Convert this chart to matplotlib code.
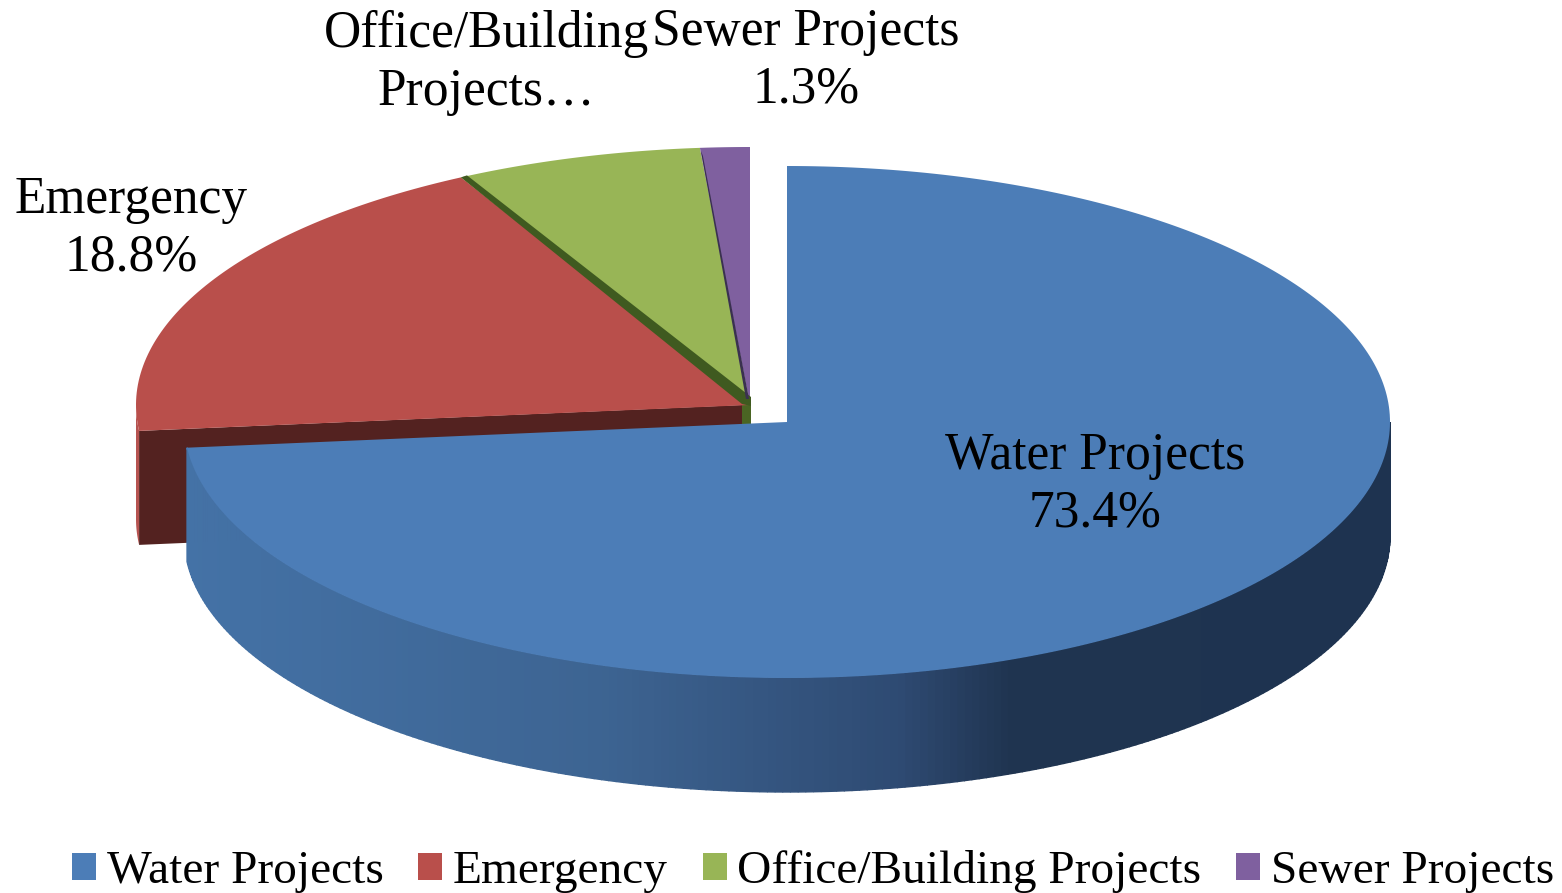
import matplotlib
matplotlib.use('Agg')
import matplotlib.pyplot as plt
from matplotlib.patches import Polygon, Patch
from matplotlib.colors import to_rgb
import numpy as np

plt.rcParams['font.family'] = ['Liberation Serif', 'DejaVu Serif']

categories = ['Water Projects', 'Emergency', 'Office/Building Projects', 'Sewer Projects']
values = [73.4, 18.8, 6.5, 1.3]
label_texts = ['Water Projects\n73.4%', 'Emergency\n18.8%', 'Office/Building\nProjects…', 'Sewer Projects\n1.3%']
label_pos = [(1095, 485), (131, 229), (486, 63), (806, 61)]
colors = ['#4c7db7', '#b94f4b', '#98b556', '#7f609f']

# pie geometry in picture pixels
big_c = (787, 422)
small_c = (750, 405)
rx_big, ry_big = 603, 256
rx_small, ry_small = 614, 258
depth = 114


def rim(c, rx, ry, deg):
    t = np.radians(deg)
    return np.column_stack([c[0] + rx * np.sin(t), c[1] - ry * np.cos(t)])


def shade(x):
    # side wall gets darker going right
    xs = [187, 600, 900, 1010, 1390]
    cs = [to_rgb(c) for c in ['#4472a6', '#3d6492', '#2e4a72', '#1f3450', '#1e3350']]
    return [np.interp(x, xs, [c[i] for c in cs]) for i in range(3)]


fig = plt.figure(figsize=(15.62, 8.93), dpi=100)
ax = fig.add_axes([0, 0, 1, 1])
ax.set_xlim(0, 1562)
ax.set_ylim(893, 0)
ax.axis('off')

edges = np.cumsum([0] + values) * 3.6

# thin outer wall of the red slice at the far left
a = np.linspace(edges[1], 270, 12)
top = rim(small_c, rx_small, ry_small, a)
ax.add_patch(Polygon(np.vstack([top, (top + [0, depth])[::-1]]), fc='#b65350', ec='none', zorder=1))

# dark cut face under the red slice, blue sits on top of it
p1 = rim(small_c, rx_small, ry_small, edges[1])[0]
ax.add_patch(Polygon([p1, (742, small_c[1]), (742, small_c[1] + depth), p1 + [0, depth]],
                     fc='#532220', ec='none', zorder=1))
ax.add_patch(Polygon([(742, small_c[1] - 2), (751, small_c[1] - 6), (751, 424), (742, 424)],
                     fc='#4a6523', ec='none', zorder=1))

# slices at the back, pulled away from the blue one
for i in range(1, 4):
    a = np.linspace(edges[i], edges[i + 1], 80)
    pts = np.vstack([[small_c], rim(small_c, rx_small, ry_small, a)])
    ax.add_patch(Polygon(pts, fc=colors[i], ec='none', zorder=2))

# dark edges between the slices, wider near the middle
p2 = rim(small_c, rx_small, ry_small, edges[2])[0]
ax.add_patch(Polygon([p2, p2 + [6, -2], (751, 397), (751, 406), (742, 404)],
                     fc='#3f5a20', ec='none', zorder=3))
p3 = rim(small_c, rx_small, ry_small, edges[3])[0]
ax.add_patch(Polygon([p3 + [1, 3], p3 + [3, 8], (small_c[0] - 1, small_c[1] - 6), (small_c[0] - 4, small_c[1] - 6)],
                     fc='#3a3050', ec='none', zorder=3))

# blue outer wall, drawn in strips for the gradient
a = np.linspace(90, edges[1], 240)
for s, e in zip(a[:-1], a[1:]):
    top = rim(big_c, rx_big, ry_big, np.array([s, e]))
    bot = top + [0, depth]
    ax.add_patch(Polygon(np.vstack([top, bot[::-1]]), fc=shade(top[:, 0].mean()),
                         ec=shade(top[:, 0].mean()), lw=1, zorder=4))

# blue top face
a = np.linspace(edges[0], edges[1], 300)
pts = np.vstack([[big_c], rim(big_c, rx_big, ry_big, a)])
ax.add_patch(Polygon(pts, fc=colors[0], ec='none', zorder=5))

for txt, pos in zip(label_texts, label_pos):
    ax.text(pos[0], pos[1], txt, ha='center', va='center', fontsize=37.1, color='black',
            linespacing=1.26, zorder=6)

handles = [Patch(fc=c, ec='none', label=n) for c, n in zip(colors, categories)]
ax.legend(handles=handles, loc='lower left', bbox_to_anchor=(72, 893), bbox_transform=ax.transData,
          ncol=4, frameon=False, fontsize=34.1, borderpad=0, borderaxespad=0,
          handlelength=0.51, handleheight=0.51, handletextpad=0.22, columnspacing=0.735)

fig.savefig('out.png', dpi=100, facecolor='white')
